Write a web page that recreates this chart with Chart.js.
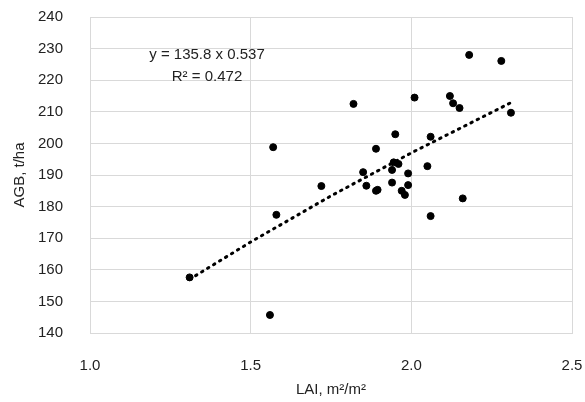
<!DOCTYPE html>
<html lang="en">
  <head>
    <meta charset="UTF-8" />
    <title>AGB vs LAI</title>
    <style>
      html, body { margin: 0; padding: 0; background: #fff; }
      canvas { display: block; }
    </style>
  </head>
  <body>
    <canvas id="chart-1" width="585" height="402"></canvas>
    <script src="https://cdn.jsdelivr.net/npm/chart.js"></script>
    <script>
      // LAI (m2/m2) and AGB (t/ha)
      const lai = [
        1.31, 1.57, 1.58, 1.72, 1.56, 1.82, 1.95, 1.89, 2.01, 2.06,
        2.18, 2.28, 2.12, 2.13, 2.15, 2.31, 2.05, 1.85, 1.86, 1.94,
        1.96, 1.945, 1.99, 1.94, 1.895, 1.89, 1.99, 1.97, 1.98, 2.06,
        2.16
      ];
      const agb = [
        157.6, 198.8, 177.4, 186.5, 145.7, 212.5, 202.9, 198.3, 214.5, 202.1,
        228.0, 226.1, 215.0, 212.7, 211.2, 209.7, 192.8, 190.9, 186.6, 191.6,
        193.5, 194.0, 190.5, 187.6, 185.3, 185.0, 186.8, 185.0, 183.7, 177.0,
        182.6
      ];

      // power trendline, y = 135.8 x^0.537
      const trendX = [1.31, 1.5, 1.75, 2.0, 2.31];
      const trendY = [157.0, 168.8, 183.4, 197.0, 212.9];
      const trendLabel = ["y = 135.8 x 0.537", "R\u00b2 = 0.472"];

      const xTicks = [1.0, 1.5, 2.0, 2.5];
      const yTicks = [140, 150, 160, 170, 180, 190, 200, 210, 220, 230, 240];

      const font = "'Liberation Sans', Arial, sans-serif";
      const textColor = "#222";
      const gridColor = "#d9d9d9";

      const labelPlugin = {
        id: "trendLabel",
        afterDatasetsDraw(chart) {
          const ctx = chart.ctx;
          const area = chart.chartArea;
          ctx.save();
          ctx.font = "15px " + font;
          ctx.fillStyle = textColor;
          ctx.textAlign = "center";
          ctx.textBaseline = "middle";
          const cx = area.left + 117;
          ctx.fillText(trendLabel[0], cx, area.top + 38);
          ctx.fillText(trendLabel[1], cx, area.top + 60);
          ctx.restore();
        },
      };

      const ctx_1 = document.getElementById("chart-1");

      new Chart(ctx_1, {
        type: "scatter",
        data: {
          datasets: [
            {
              label: "AGB",
              data: lai.map((x, i) => ({ x: x, y: agb[i] })),
              backgroundColor: "#000",
              borderColor: "#000",
              pointRadius: 3.5,
              pointHoverRadius: 3.5,
              order: 1,
            },
            {
              label: "Power fit",
              data: trendX.map((x, i) => ({ x: x, y: trendY[i] })),
              showLine: true,
              pointRadius: 0,
              borderColor: "#000",
              borderWidth: 3,
              borderDash: [1.5, 5.5],
              borderCapStyle: "round",
              tension: 0,
              order: 2,
            },
          ],
        },
        options: {
          responsive: false,
          animation: false,
          layout: { padding: { left: 0, right: 13, top: 17, bottom: 0 } },
          plugins: {
            legend: { display: false },
            tooltip: { enabled: false },
          },
          scales: {
            x: {
              type: "linear",
              min: 1.0,
              max: 2.5,
              afterBuildTicks: (s) => { s.ticks = xTicks.map((v) => ({ value: v })); },
              afterFit: (s) => { s.height = 69; },
              ticks: {
                padding: 0,
                color: textColor,
                font: { family: font, size: 15 },
                callback: (v) => Number(v).toFixed(1),
              },
              // invisible tick marks keep the labels away from the plot
              grid: { color: gridColor, lineWidth: 1, drawTicks: true, tickLength: 24, tickColor: "rgba(0,0,0,0)" },
              border: { color: gridColor },
              title: {
                display: true,
                text: "LAI, m\u00b2/m\u00b2",
                color: textColor,
                font: { family: font, size: 15 },
                padding: { top: 0, bottom: 3 },
              },
            },
            y: {
              type: "linear",
              min: 140,
              max: 240,
              afterBuildTicks: (s) => { s.ticks = yTicks.map((v) => ({ value: v })); },
              afterFit: (s) => { s.width = 90; },
              ticks: {
                padding: 0,
                color: textColor,
                font: { family: font, size: 15 },
              },
              grid: { color: gridColor, lineWidth: 1, drawTicks: true, tickLength: 27, tickColor: "rgba(0,0,0,0)" },
              border: { color: gridColor },
              title: {
                display: true,
                text: "AGB, t/ha",
                color: textColor,
                font: { family: font, size: 15 },
                padding: { top: 11, bottom: 0 },
              },
            },
          },
        },
        plugins: [labelPlugin],
      });
    </script>
  </body>
</html>
